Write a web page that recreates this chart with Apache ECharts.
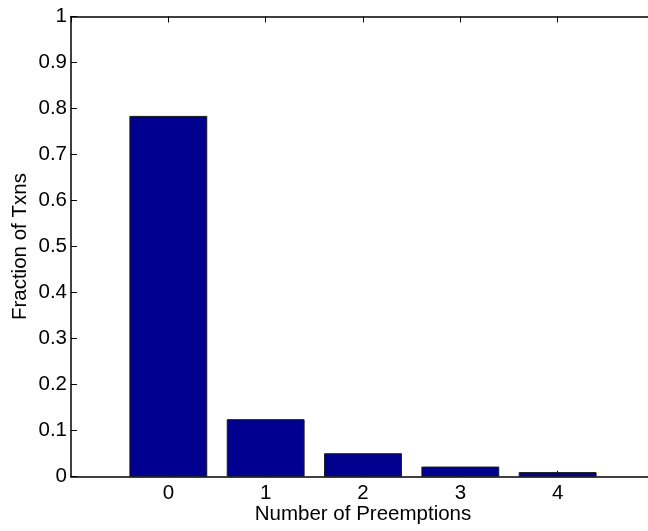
<!DOCTYPE html>
<html>
<head>
<meta charset="utf-8">
<script src="https://cdn.jsdelivr.net/npm/echarts@6/dist/echarts.min.js"></script>
<style>
  html, body { margin: 0; padding: 0; background: #fff; }
  #chart { width: 648px; height: 531px; }
</style>
</head>
<body>
<div id="chart"></div>
<script>
// Share of transactions by number of preemptions
const preemptions = [0, 1, 2, 3, 4];
const fractions = [0.784, 0.125, 0.051, 0.022, 0.010];
const yTicks = [0, 0.1, 0.2, 0.3, 0.4, 0.5, 0.6, 0.7, 0.8, 0.9, 1];

const FONT = '"Liberation Sans", Arial, Helvetica, sans-serif';
const FS = 20.5;

const chart = echarts.init(document.getElementById('chart'), null, { renderer: 'canvas' });

const axisLine = { show: true, onZero: false, lineStyle: { color: '#000', width: 1.5 } };
const axisTick = { show: true, inside: true, length: 6, lineStyle: { color: '#000', width: 1 } };

const xBase = {
  type: 'value',
  min: preemptions[0] - 1,
  max: preemptions[preemptions.length - 1] + 1,
  interval: 1,
  axisLine: axisLine,
  axisTick: axisTick,
  splitLine: { show: false }
};

const yBase = {
  type: 'value',
  min: yTicks[0],
  max: yTicks[yTicks.length - 1],
  interval: 0.1,
  axisLine: axisLine,
  axisTick: axisTick,
  splitLine: { show: false }
};

chart.setOption({
  animation: false,
  backgroundColor: '#fff',
  // the plot box runs a little past the right edge of the canvas
  grid: { left: 71, width: 584, top: 16.5, bottom: 54.3, containLabel: false, outerBoundsMode: 'none' },
  xAxis: [
    Object.assign({}, xBase, {
      position: 'bottom',
      name: 'Number of Preemptions',
      nameLocation: 'middle',
      nameGap: 27,
      nameMoveOverlap: false,
      nameTextStyle: { fontFamily: FONT, fontSize: FS, color: '#000' },
      axisLabel: {
        fontFamily: FONT, fontSize: FS, color: '#000', margin: 6,
        showMinLabel: false, showMaxLabel: false,
        formatter: v => (preemptions.indexOf(v) >= 0 ? String(v) : '')
      }
    }),
    Object.assign({}, xBase, { position: 'top', axisLabel: { show: false } })
  ],
  yAxis: [
    Object.assign({}, yBase, {
      position: 'left',
      name: 'Fraction of Txns',
      nameLocation: 'middle',
      nameRotate: 90,
      nameGap: 40,
      nameMoveOverlap: false,
      nameTextStyle: { fontFamily: FONT, fontSize: FS, color: '#000' },
      axisLabel: {
        fontFamily: FONT, fontSize: FS, color: '#000', margin: 4,
        formatter: v => String(Math.round(v * 10) / 10)
      }
    }),
    Object.assign({}, yBase, { position: 'right', axisLabel: { show: false } })
  ],
  series: [{
    type: 'bar',
    xAxisIndex: 0,
    yAxisIndex: 0,
    barWidth: '80%',
    data: preemptions.map((p, i) => [p, fractions[i]]),
    itemStyle: { color: '#00008F', borderColor: '#1a1a1a', borderWidth: 1 },
    emphasis: { disabled: true }
  }]
});
</script>
</body>
</html>
